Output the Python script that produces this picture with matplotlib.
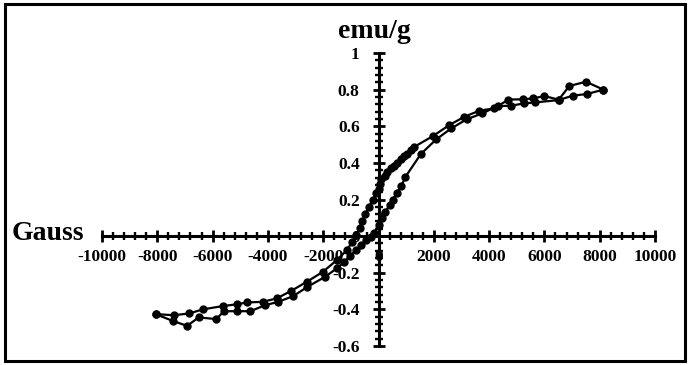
import matplotlib
matplotlib.use("Agg")
import matplotlib.pyplot as plt
from matplotlib.ticker import FixedLocator, MultipleLocator, FixedFormatter
from matplotlib.patches import Rectangle

# Descending-field branch (upper branch), ordered from +H to -H
upper_h = [8132, 7506, 6903, 6517, 5999, 5590, 5216, 4700, 4192, 3650, 3108, 2566,
           1964, 1300, 1193, 1048, 940, 831, 687, 578, 470, 325, 217, 108, 50, 0,
           -84, -206, -350, -482, -590, -687, -807, -952, -1145, -1500, -2010,
           -2600, -3170, -3680, -4190, -4746, -5110, -5635, -6350, -6840, -7400, -8060]
upper_m = [0.800, 0.843, 0.820, 0.745, 0.765, 0.752, 0.747, 0.746, 0.698, 0.685, 0.652, 0.607,
           0.546, 0.488, 0.470, 0.450, 0.440, 0.420, 0.400, 0.385, 0.370, 0.350, 0.330, 0.310, 0.285, 0.258,
           0.233, 0.197, 0.160, 0.120, 0.083, 0.047, 0.005, -0.031, -0.077, -0.130, -0.195,
           -0.250, -0.300, -0.340, -0.359, -0.362, -0.372, -0.382, -0.400, -0.422, -0.432, -0.426]

# Ascending-field branch (lower branch), ordered from -H to +H
lower_h = [-8060, -7440, -6925, -6500, -5865, -5590, -5110, -4635, -4100, -3630, -3090,
           -2570, -1930, -1500, -1230, -1048, -807, -627, -446, -265, -145, 0, 133, 253,
           398, 518, 663, 820, 976, 1530, 2085, 2627, 3192, 3747, 4313, 4783, 5270,
           5663, 6517, 7022, 7540, 8132]
lower_m = [-0.426, -0.463, -0.490, -0.444, -0.453, -0.410, -0.410, -0.410, -0.377, -0.359, -0.328,
           -0.277, -0.222, -0.175, -0.140, -0.109, -0.077, -0.049, -0.022, -0.007, 0.018, 0.060, 0.097, 0.133,
           0.170, 0.200, 0.237, 0.273, 0.324, 0.448, 0.528, 0.588, 0.638, 0.670, 0.710, 0.712, 0.725,
           0.730, 0.743, 0.767, 0.776, 0.800]

x_ticks = [-10000, -8000, -6000, -4000, -2000, 0, 2000, 4000, 6000, 8000, 10000]
x_tick_labels = ["-10000", "-8000", "-6000", "-4000", "-2000", "0", "2000", "4000", "6000", "8000", "10000"]
y_ticks = [-0.6, -0.4, -0.2, 0, 0.2, 0.4, 0.6, 0.8, 1.0]
y_tick_labels = ["-0.6", "-0.4", "-0.2", "0", "0.2", "0.4", "0.6", "0.8", "1"]
x_title = "Gauss"
y_title = "emu/g"

serif = "Liberation Serif"

fig = plt.figure(figsize=(6.9, 3.65), dpi=100)
fig.patch.set_facecolor("white")
ax = fig.add_axes([102/690, 1 - 346/365, 553/690, 293/365])
ax.set_facecolor("none")

line_kw = dict(color="black", linewidth=1.6, marker="o", markersize=5.0,
               markerfacecolor="black", markeredgecolor="black", clip_on=False)
ax.plot(upper_h, upper_m, **line_kw, zorder=3)
ax.plot(lower_h, lower_m, **line_kw, zorder=3)

ax.set_xlim(-10000, 10000)
ax.set_ylim(-0.6, 1.0)

for s in ["top", "right"]:
    ax.spines[s].set_visible(False)
ax.spines["left"].set_position(("data", 0))
ax.spines["bottom"].set_position(("data", 0))
ax.spines["left"].set_linewidth(2.2)
ax.spines["bottom"].set_linewidth(2.2)

ax.xaxis.set_major_locator(FixedLocator(x_ticks))
ax.xaxis.set_major_formatter(FixedFormatter(x_tick_labels))
ax.xaxis.set_minor_locator(MultipleLocator(400))
ax.yaxis.set_major_locator(FixedLocator(y_ticks))
ax.yaxis.set_major_formatter(FixedFormatter(y_tick_labels))
ax.yaxis.set_minor_locator(MultipleLocator(0.04))

ax.tick_params(which="major", direction="inout", length=9, width=2.0, color="black")
ax.tick_params(which="minor", direction="inout", length=6, width=1.7, color="black")
ax.tick_params(axis="x", which="major", pad=5)
ax.tick_params(axis="y", which="major", pad=9)

for lab in ax.get_xticklabels() + ax.get_yticklabels():
    lab.set_fontfamily(serif)
    lab.set_fontweight("bold")
    lab.set_fontsize(12.5)

fig.text(48/690, 1 - 234/365, x_title, fontfamily=serif, fontweight="bold",
         fontsize=20, ha="center", va="center")
fig.text(374/690, 1 - 32/365, y_title, fontfamily=serif, fontweight="bold",
         fontsize=20, ha="center", va="center")

fig.patches.append(Rectangle((5/690, 4/365), 680/690, 357/365, transform=fig.transFigure,
                             fill=False, edgecolor="black", linewidth=2.2))

fig.savefig("out.png", dpi=100, facecolor="white")
